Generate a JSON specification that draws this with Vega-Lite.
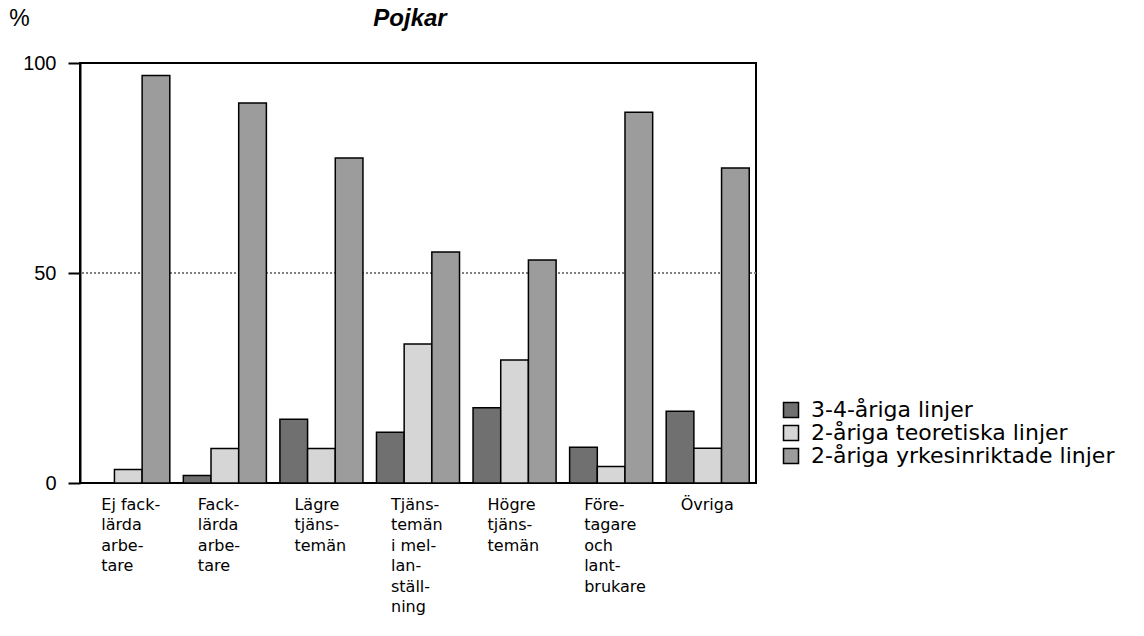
{
  "$schema": "https://vega.github.io/schema/vega-lite/v6.json",
  "width": 676,
  "height": 420,
  "autosize": {"type": "none"},
  "padding": {"left": 80, "top": 63, "right": 388, "bottom": 153},
  "background": "white",
  "config": {
    "font": "Liberation Sans",
    "view": {"stroke": "black", "strokeWidth": 2}
  },
  "title": {
    "text": "Pojkar",
    "fontSize": 24,
    "fontStyle": "italic",
    "fontWeight": "bold",
    "anchor": "middle",
    "color": "black",
    "offset": -24,
    "dx": -8
  },
  "layer": [
    {
      "data": {"values": [{"ref": 50}]},
      "mark": {"type": "rule", "color": "#808080", "strokeDash": [2, 2], "strokeWidth": 2},
      "encoding": {
        "y": {
          "field": "ref",
          "type": "quantitative",
          "scale": {"domain": [0, 100]},
          "axis": {
            "values": [0, 50, 100],
            "grid": false,
            "tickSize": 12,
            "tickWidth": 2,
            "tickColor": "black",
            "domainColor": "black",
            "domainWidth": 2,
            "labelFontSize": 20,
            "labelColor": "black",
            "labelPadding": 12,
            "title": "%",
            "titleAngle": 0,
            "titleFontSize": 23,
            "titleFontWeight": "normal",
            "titleColor": "black",
            "titleAlign": "center",
            "titleBaseline": "middle",
            "titleX": -61,
            "titleY": -45
          }
        }
      }
    },
    {
      "data": {
        "values": [
          {"cat": "Ej fack-|lärda|arbe-|tare", "series": "3-4-åriga linjer", "value": 0},
          {"cat": "Ej fack-|lärda|arbe-|tare", "series": "2-åriga teoretiska linjer", "value": 3.2},
          {"cat": "Ej fack-|lärda|arbe-|tare", "series": "2-åriga yrkesinriktade linjer", "value": 97},
          {"cat": "Fack-|lärda|arbe-|tare", "series": "3-4-åriga linjer", "value": 1.8},
          {"cat": "Fack-|lärda|arbe-|tare", "series": "2-åriga teoretiska linjer", "value": 8.2},
          {"cat": "Fack-|lärda|arbe-|tare", "series": "2-åriga yrkesinriktade linjer", "value": 90.5},
          {"cat": "Lägre|tjäns-|temän", "series": "3-4-åriga linjer", "value": 15.2},
          {"cat": "Lägre|tjäns-|temän", "series": "2-åriga teoretiska linjer", "value": 8.2},
          {"cat": "Lägre|tjäns-|temän", "series": "2-åriga yrkesinriktade linjer", "value": 77.4},
          {"cat": "Tjäns-|temän|i mel-|lan-|ställ-|ning", "series": "3-4-åriga linjer", "value": 12.1},
          {"cat": "Tjäns-|temän|i mel-|lan-|ställ-|ning", "series": "2-åriga teoretiska linjer", "value": 33.1},
          {"cat": "Tjäns-|temän|i mel-|lan-|ställ-|ning", "series": "2-åriga yrkesinriktade linjer", "value": 55},
          {"cat": "Högre|tjäns-|temän", "series": "3-4-åriga linjer", "value": 17.9},
          {"cat": "Högre|tjäns-|temän", "series": "2-åriga teoretiska linjer", "value": 29.3},
          {"cat": "Högre|tjäns-|temän", "series": "2-åriga yrkesinriktade linjer", "value": 53.1},
          {"cat": "Före-|tagare|och|lant-|brukare", "series": "3-4-åriga linjer", "value": 8.5},
          {"cat": "Före-|tagare|och|lant-|brukare", "series": "2-åriga teoretiska linjer", "value": 3.9},
          {"cat": "Före-|tagare|och|lant-|brukare", "series": "2-åriga yrkesinriktade linjer", "value": 88.3},
          {"cat": "Övriga", "series": "3-4-åriga linjer", "value": 17.1},
          {"cat": "Övriga", "series": "2-åriga teoretiska linjer", "value": 8.3},
          {"cat": "Övriga", "series": "2-åriga yrkesinriktade linjer", "value": 75}
        ]
      },
      "mark": {"type": "bar", "stroke": "black", "strokeWidth": 1.5},
      "encoding": {
        "x": {
          "field": "cat",
          "type": "nominal",
          "sort": null,
          "scale": {"paddingInner": 0.14, "paddingOuter": 0.07},
          "axis": {
            "title": null,
            "labelAngle": 0,
            "labelAlign": "left",
            "labelBaseline": "top",
            "labelOffset": -27,
            "labelExpr": "split(datum.value, '|')",
            "labelFont": "DejaVu Sans",
            "labelFontSize": 16,
            "labelLineHeight": 20.5,
            "labelColor": "black",
            "labelPadding": 13,
            "ticks": false,
            "domain": false
          }
        },
        "xOffset": {
          "field": "series",
          "type": "nominal",
          "sort": ["3-4-åriga linjer", "2-åriga teoretiska linjer", "2-åriga yrkesinriktade linjer"],
          "scale": {"paddingInner": 0, "paddingOuter": 0}
        },
        "y": {
          "field": "value",
          "type": "quantitative",
          "scale": {"domain": [0, 100]},
          "axis": {
            "values": [0, 50, 100],
            "grid": false,
            "tickSize": 12,
            "tickWidth": 2,
            "tickColor": "black",
            "domainColor": "black",
            "domainWidth": 2,
            "labelFontSize": 20,
            "labelColor": "black",
            "labelPadding": 12,
            "title": "%",
            "titleAngle": 0,
            "titleFontSize": 23,
            "titleFontWeight": "normal",
            "titleColor": "black",
            "titleAlign": "center",
            "titleBaseline": "middle",
            "titleX": -61,
            "titleY": -45
          }
        },
        "fill": {
          "field": "series",
          "type": "nominal",
          "scale": {
            "domain": ["3-4-åriga linjer", "2-åriga teoretiska linjer", "2-åriga yrkesinriktade linjer"],
            "range": ["#707070", "#d6d6d6", "#9c9c9c"]
          },
          "legend": {
            "orient": "none",
            "legendX": 700,
            "legendY": 336,
            "title": null,
            "padding": 0,
            "symbolType": "square",
            "symbolSize": 225,
            "symbolStrokeColor": "black",
            "symbolStrokeWidth": 1.5,
            "symbolOpacity": 1,
            "labelFont": "DejaVu Sans",
            "labelFontSize": 22,
            "labelColor": "black",
            "labelOffset": 9,
            "labelLimit": 500,
            "rowPadding": 1
          }
        }
      }
    }
  ]
}
